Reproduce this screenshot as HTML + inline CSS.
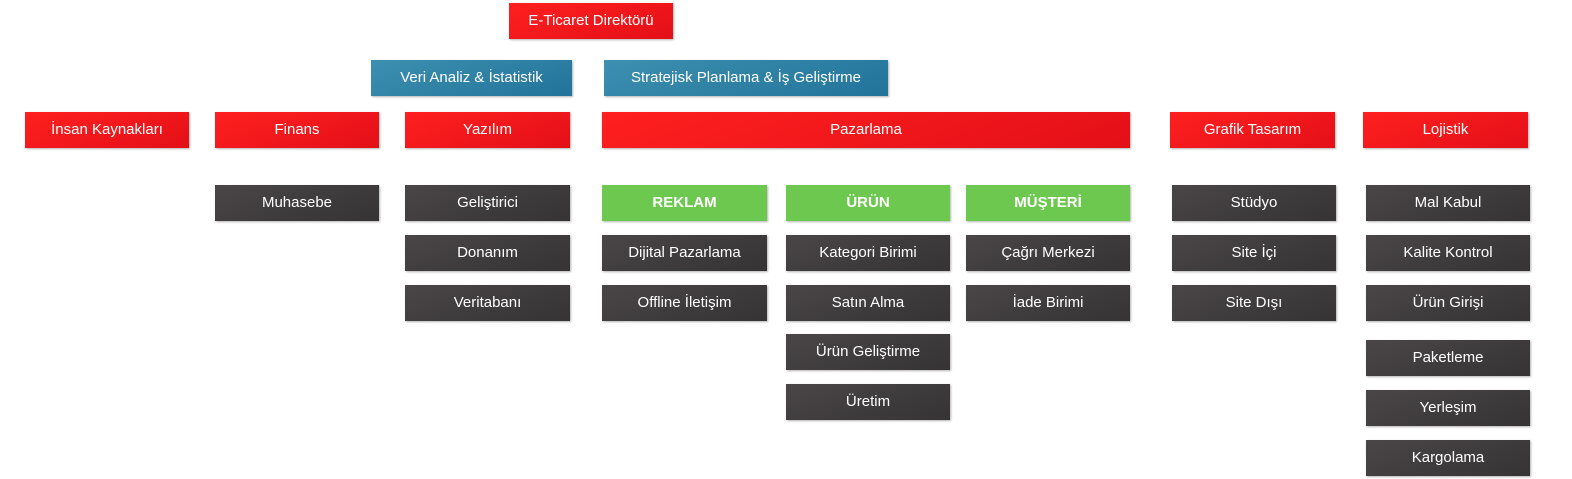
<!DOCTYPE html>
<html><head><meta charset="utf-8"><style>
body{margin:0;width:1572px;height:479px;background:#fff;position:relative;overflow:hidden;font-family:"Liberation Sans","DejaVu Sans",sans-serif;}
.b{position:absolute;height:36px;line-height:36px;text-align:center;color:#fff;font-size:15px;box-sizing:border-box;box-shadow:1px 1px 2px rgba(0,0,0,.3);}
.r{background:linear-gradient(160deg,#ff2020,#e30f17);}
.u{background:linear-gradient(160deg,#3d90b0,#22739a);}
.g{background:#6cc84e;font-weight:bold;}
.d{background:linear-gradient(160deg,#4a4648,#363334);}
</style></head><body>
<div class="b r" style="left:509px;top:3px;width:164px">E-Ticaret Direktörü</div>
<div class="b u" style="left:371px;top:60px;width:201px">Veri Analiz &amp; İstatistik</div>
<div class="b u" style="left:604px;top:60px;width:284px">Stratejisk Planlama &amp; İş Geliştirme</div>
<div class="b r" style="left:25px;top:112px;width:164px">İnsan Kaynakları</div>
<div class="b r" style="left:215px;top:112px;width:164px">Finans</div>
<div class="b r" style="left:405px;top:112px;width:165px">Yazılım</div>
<div class="b r" style="left:602px;top:112px;width:528px">Pazarlama</div>
<div class="b r" style="left:1170px;top:112px;width:165px">Grafik Tasarım</div>
<div class="b r" style="left:1363px;top:112px;width:165px">Lojistik</div>

<div class="b d" style="left:215px;top:185px;width:164px">Muhasebe</div>

<div class="b d" style="left:405px;top:185px;width:165px">Geliştirici</div>
<div class="b d" style="left:405px;top:235px;width:165px">Donanım</div>
<div class="b d" style="left:405px;top:285px;width:165px">Veritabanı</div>

<div class="b g" style="left:602px;top:185px;width:165px">REKLAM</div>
<div class="b d" style="left:602px;top:235px;width:165px">Dijital Pazarlama</div>
<div class="b d" style="left:602px;top:285px;width:165px">Offline İletişim</div>

<div class="b g" style="left:786px;top:185px;width:164px">ÜRÜN</div>
<div class="b d" style="left:786px;top:235px;width:164px">Kategori Birimi</div>
<div class="b d" style="left:786px;top:285px;width:164px">Satın Alma</div>
<div class="b d" style="left:786px;top:334px;width:164px">Ürün Geliştirme</div>
<div class="b d" style="left:786px;top:384px;width:164px">Üretim</div>

<div class="b g" style="left:966px;top:185px;width:164px">MÜŞTERİ</div>
<div class="b d" style="left:966px;top:235px;width:164px">Çağrı Merkezi</div>
<div class="b d" style="left:966px;top:285px;width:164px">İade Birimi</div>

<div class="b d" style="left:1172px;top:185px;width:164px">Stüdyo</div>
<div class="b d" style="left:1172px;top:235px;width:164px">Site İçi</div>
<div class="b d" style="left:1172px;top:285px;width:164px">Site Dışı</div>

<div class="b d" style="left:1366px;top:185px;width:164px">Mal Kabul</div>
<div class="b d" style="left:1366px;top:235px;width:164px">Kalite Kontrol</div>
<div class="b d" style="left:1366px;top:285px;width:164px">Ürün Girişi</div>
<div class="b d" style="left:1366px;top:340px;width:164px">Paketleme</div>
<div class="b d" style="left:1366px;top:390px;width:164px">Yerleşim</div>
<div class="b d" style="left:1366px;top:440px;width:164px">Kargolama</div>
</body></html>
